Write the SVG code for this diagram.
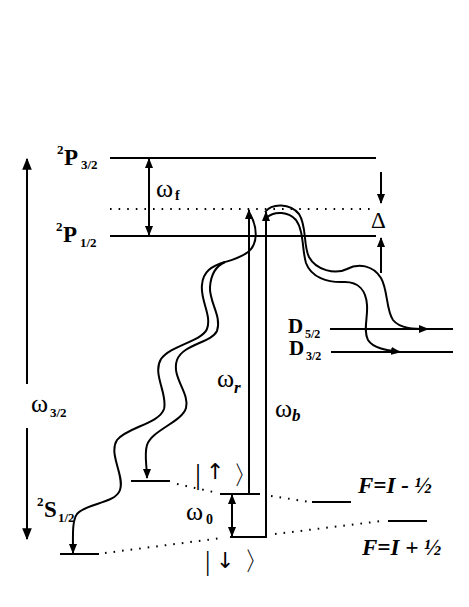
<svg xmlns="http://www.w3.org/2000/svg" width="469" height="607" viewBox="0 0 469 607">
<style>
.lv{stroke:#000;stroke-width:2;fill:none}
.dot{stroke:#000;stroke-width:2;stroke-dasharray:1.6 7;fill:none}
.ar{stroke:#000;stroke-width:2;fill:none}
.wv{stroke:#000;stroke-width:2;fill:none}
.t{font-family:"Liberation Serif","Times New Roman",serif;fill:#000}
.s{font-family:"DejaVu Sans","Liberation Sans",sans-serif;fill:#000}
.b{font-weight:bold}
.bi{font-weight:bold;font-style:italic}
</style>
<defs>
<marker id="ah" viewBox="0 0 10 8" refX="9" refY="4" markerWidth="10" markerHeight="8" markerUnits="userSpaceOnUse" orient="auto-start-reverse"><path d="M0,0 L10,4 L0,8 z" fill="#000"/></marker>
<marker id="ahb" viewBox="0 0 10 8" refX="9" refY="4" markerWidth="12" markerHeight="10" markerUnits="userSpaceOnUse" orient="auto-start-reverse"><path d="M0,0 L10,4 L0,8 z" fill="#000"/></marker>
</defs>
<rect width="469" height="607" fill="#fff"/>

<g id="levels">
<line class="lv" x1="110" y1="158" x2="376" y2="158"/>
<line class="dot" x1="110" y1="209" x2="372" y2="209"/>
<line class="lv" x1="110" y1="236" x2="376" y2="236"/>
<line class="lv" x1="330" y1="329" x2="453" y2="329"/>
<line class="lv" x1="331" y1="352" x2="453" y2="352"/>
<line class="lv" x1="131" y1="481" x2="170" y2="481"/>
<line class="lv" x1="220" y1="494" x2="260" y2="494"/>
<line class="lv" x1="230" y1="537" x2="267" y2="537"/>
<line class="lv" x1="60" y1="554" x2="99" y2="554"/>
<line class="lv" x1="312" y1="502" x2="351" y2="502"/>
<line class="lv" x1="388" y1="521" x2="427" y2="521"/>
<line class="dot" x1="105" y1="553" x2="222" y2="538"/>
<line class="dot" x1="177" y1="484" x2="218" y2="493"/>
<line class="dot" x1="271" y1="496" x2="310" y2="502"/>
<line class="dot" x1="275" y1="534" x2="382" y2="521"/>
</g>

<g id="labels">
<text class="t b" x="57" y="154" font-size="13">2</text>
<text class="t b" x="64" y="165" font-size="23">P</text>
<text class="t b" x="81" y="169" font-size="13">3/2</text>
<text class="t b" x="56" y="231" font-size="13">2</text>
<text class="t b" x="63" y="242" font-size="23">P</text>
<text class="t b" x="80" y="247" font-size="13">1/2</text>
<text class="t b" x="37" y="506" font-size="13">2</text>
<text class="t b" x="44" y="517" font-size="23">S</text>
<text class="t b" x="58" y="522" font-size="13">1/2</text>
<text class="t b" x="288" y="333" font-size="21">D</text>
<text class="t b" x="305" y="338" font-size="12">5/2</text>
<text class="t b" x="289" y="355" font-size="21">D</text>
<text class="t b" x="306" y="360" font-size="12">3/2</text>
<text class="t" x="371" y="228" font-size="23">Δ</text>
<text class="t" x="156" y="197" font-size="26">ω</text>
<text class="t b" x="175" y="200" font-size="14">f</text>
<text class="t" x="31" y="412" font-size="26">ω</text>
<text class="t b" x="50" y="417" font-size="13">3/2</text>
<text class="t" x="217" y="387" font-size="26">ω</text>
<text class="t bi" x="234" y="393" font-size="17">r</text>
<text class="t" x="275" y="417" font-size="26">ω</text>
<text class="t bi" x="292" y="421" font-size="17">b</text>
<text class="t" x="186" y="520" font-size="26">ω</text>
<text class="t b" x="206" y="524" font-size="14">0</text>
<text class="t" x="195" y="484" font-size="30">|</text>
<text class="s" x="206" y="479" font-size="22">↑</text>
<text class="t" x="233" y="484" font-size="26">〉</text>
<text class="t" x="205" y="570" font-size="27">|</text>
<text class="s" x="216" y="568" font-size="22">↓</text>
<text class="t" x="244" y="570" font-size="26">〉</text>
<text class="t bi" x="358" y="493" font-size="23">F=I - ½</text>
<text class="t bi" x="362" y="555" font-size="23">F=I + ½</text>
</g>

<g id="connectors">
<line class="ar" x1="27" y1="384" x2="27" y2="159" marker-end="url(#ahb)"/>
<line class="ar" x1="27" y1="428" x2="27" y2="539" marker-end="url(#ahb)"/>
<line class="ar" x1="149" y1="159" x2="149" y2="235" marker-start="url(#ah)" marker-end="url(#ah)"/>
<line class="ar" x1="381" y1="172" x2="381" y2="203" marker-end="url(#ah)"/>
<line class="ar" x1="381" y1="273" x2="381" y2="238" marker-end="url(#ah)"/>
<line class="ar" x1="232" y1="495" x2="232" y2="536" marker-start="url(#ah)" marker-end="url(#ah)"/>
<path class="ar" d="M249,494 L249,210" marker-end="url(#ah)"/>
<path class="ar" d="M230,537 L266,537 L266,212" marker-end="url(#ah)"/>
<path class="wv" d="M250,214 C257,226 259,243 248,252 C240,258 232,260 225,262"/>
<path class="wv" d="M225,262 C212,266 203,271 202,285 C200,300 212,315 207,329 C201,342 171,345 161,359 C152,374 168,394 164,409 C159,424 127,427 117,440 C108,454 125,476 120,490 C115,504 86,503 77,514 C72,521 73,535 73,553" marker-end="url(#ah)"/>
<path class="wv" d="M225,262 C216,266 211,273 210,287 C209,302 222,316 217,331 C211,343 183,344 177,360 C171,377 190,393 186,408 C182,422 152,430 147,445 C144,455 147,466 147,478" marker-end="url(#ah)"/>
<path class="wv" d="M265,212 C272,203 290,203 299,214 C307,226 303,245 309,257 C316,270 335,275 347,269 C358,263 373,265 381,278 C388,290 386,310 393,320 C400,329 415,329 428,329" marker-end="url(#ah)"/>
<path class="wv" d="M266,218 C275,210 289,212 296,220 C304,231 302,250 306,263 C311,277 327,283 345,282 C358,282 366,290 367,305 C368,318 363,330 368,340 C373,348 385,350 400,352" marker-end="url(#ah)"/>
</g>
</svg>
